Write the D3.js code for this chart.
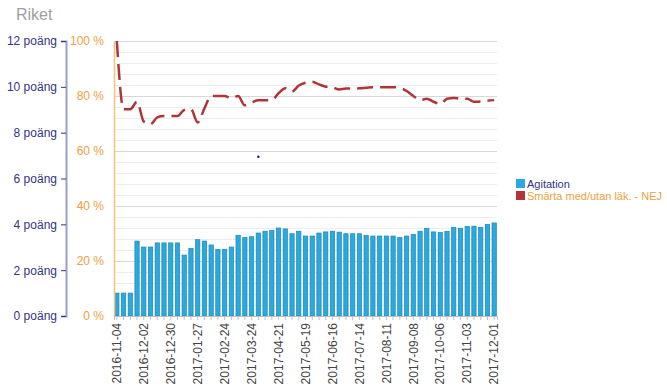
<!DOCTYPE html>
<html>
<head>
<meta charset="utf-8">
<script src="https://cdn.jsdelivr.net/npm/d3@7"></script>
<style>
  body { margin: 0; background: #fff; }
  svg { font-family: "Liberation Sans", Arial, sans-serif; }
</style>
</head>
<body>
<svg id="chart" width="667" height="388"></svg>
<script>
// weekly categories, labels every 4th week
const startDate = "2016-11-04";
const weekCount = 57;
const tickLabels = ["2016-11-04","2016-12-02","2016-12-30","2017-01-27","2017-02-24","2017-03-24",
	"2017-04-21","2017-05-19","2017-06-16","2017-07-14","2017-08-11","2017-09-08","2017-10-06",
	"2017-11-03","2017-12-01"];

// poäng
const agitation = [1.0,1.0,1.0,3.27,3.01,3.01,3.19,3.19,3.19,3.19,2.66,2.95,3.33,3.27,3.10,2.91,2.91,3.01,
	3.52,3.43,3.46,3.62,3.70,3.74,3.84,3.80,3.59,3.70,3.49,3.49,3.62,3.67,3.70,3.66,3.59,3.59,3.59,3.52,
	3.49,3.49,3.49,3.49,3.43,3.49,3.56,3.70,3.83,3.67,3.64,3.69,3.87,3.83,3.90,3.92,3.87,4.00,4.06];

// procent
const smartaNej = [100,75.2,75.2,77.9,70.7,69.8,72.2,72.7,72.7,72.7,74.9,75.2,70.4,75.5,80,80,80,79.2,80,76.6,
	77.6,78.5,78.5,78.5,81,82.8,81.6,83.8,84.8,85.2,84.2,83.4,83.2,82.4,82.7,82.7,82.8,83,83.2,83.2,83.2,83.2,
	83.0,81.8,80,78.5,79,77.9,77.1,79,79.3,79,79,77.9,78,78.3,78.5];

const poangTicks = [0,2,4,6,8,10,12];
const pctTicks = [0,20,40,60,80,100];

// stray marker seen in the original
const strayPoint = { week: 21, value: 6.95 };

const parse = d3.timeParse("%Y-%m-%d");
const fmt = d3.timeFormat("%Y-%m-%d");
const weeks = d3.range(weekCount).map(i => fmt(d3.timeDay.offset(parse(startDate), i*7)));

const svg = d3.select('#chart');
const plot = { left: 114, right: 497, top: 41, bottom: 316 };

const x = d3.scaleBand().domain(weeks).range([plot.left, plot.right]).paddingInner(0.36).paddingOuter(0.1);
const yP = d3.scaleLinear().domain([0,12]).range([plot.bottom, plot.top]);
const yPct = d3.scaleLinear().domain([0,100]).range([plot.bottom, plot.top]);

// title
svg.append('text').attr('x',16).attr('y',20).attr('fill','#a0a0a0')
	.style('font-size','16px').text('Riket');

// grid
const minor = d3.range(0,101,4);
svg.append('g').selectAll('line').data(minor).enter().append('line')
	.attr('x1',plot.left).attr('x2',plot.right)
	.attr('y1',d => Math.round(yPct(d))+0.5).attr('y2',d => Math.round(yPct(d))+0.5)
	.attr('stroke', d => (d % 20 === 0) ? '#d8d8d8' : '#ececec')
	.attr('stroke-width',1);

// bars
svg.append('g').selectAll('rect').data(agitation).enter().append('rect')
	.attr('x',(d,i) => x(weeks[i]))
	.attr('y',d => yP(d))
	.attr('width',x.bandwidth())
	.attr('height',d => plot.bottom - yP(d))
	.attr('fill','#2aa9e0')
	.attr('stroke','#1f86b8')
	.attr('stroke-width',0.7);

// line
const line = d3.line()
	.x((d,i) => x(weeks[i]) + x.bandwidth()/2)
	.y(d => yPct(d))
	.curve(d3.curveMonotoneX);
svg.append('path').datum(smartaNej)
	.attr('d',line)
	.attr('fill','none')
	.attr('stroke','#b03539')
	.attr('stroke-width',2.5)
	.attr('stroke-dasharray','16,7');

svg.append('circle')
	.attr('cx',x(weeks[strayPoint.week]) + x.bandwidth()/2)
	.attr('cy',yP(strayPoint.value))
	.attr('r',1.2).attr('fill','#1a1a80');

// left axis (poäng)
const axP = svg.append('g').attr('transform','translate(66,0)')
	.call(d3.axisLeft(yP).tickValues(poangTicks).tickSize(5).tickPadding(4).tickFormat(d => d + ' poäng'));
axP.select('.domain').attr('stroke','#9c9ccc').attr('stroke-width',2);
axP.selectAll('.tick line').attr('stroke','#333388');
axP.selectAll('text').attr('fill','#333388').style('font-size','12px').style('font-family','Liberation Sans, Arial, sans-serif');

// second axis (%)
const axPct = svg.append('g').attr('transform',`translate(${plot.left},0)`)
	.call(d3.axisLeft(yPct).tickValues(pctTicks).tickSize(0).tickPadding(10).tickFormat(d => d + ' %'));
axPct.select('.domain').attr('stroke','#f7c373').attr('stroke-width',1.5);
axPct.selectAll('text').attr('fill','#f0a040').style('font-size','12px').style('font-family','Liberation Sans, Arial, sans-serif');

// x axis
const axX = svg.append('g').attr('transform',`translate(0,${plot.bottom})`)
	.call(d3.axisBottom(x).tickSize(4).tickPadding(4).tickFormat(d => tickLabels.includes(d) ? d : ''));
axX.select('.domain').attr('stroke','#c0c0c0');
axX.selectAll('.tick line').attr('stroke','#c0c0c0');
axX.selectAll('text')
	.attr('transform','rotate(-90)')
	.attr('text-anchor','end')
	.attr('x',-7).attr('y',0).attr('dy','0.35em')
	.attr('fill','#444')
	.style('font-size','12px').style('font-family','Liberation Sans, Arial, sans-serif');

// legend
const legendItems = [
	{ name: 'Agitation', color: '#2aa9e0', text: '#333388' },
	{ name: 'Smärta med/utan läk. - NEJ', color: '#b03539', text: '#f0a040' }
];
const lg = svg.append('g').selectAll('g').data(legendItems).enter().append('g')
	.attr('transform',(d,i) => `translate(516,${179 + i*12})`);
lg.append('rect').attr('width',9).attr('height',9).attr('fill',d => d.color);
lg.append('text').attr('x',11).attr('y',8.5).attr('fill',d => d.text)
	.style('font-size','11px').text(d => d.name);
</script>
</body>
</html>
